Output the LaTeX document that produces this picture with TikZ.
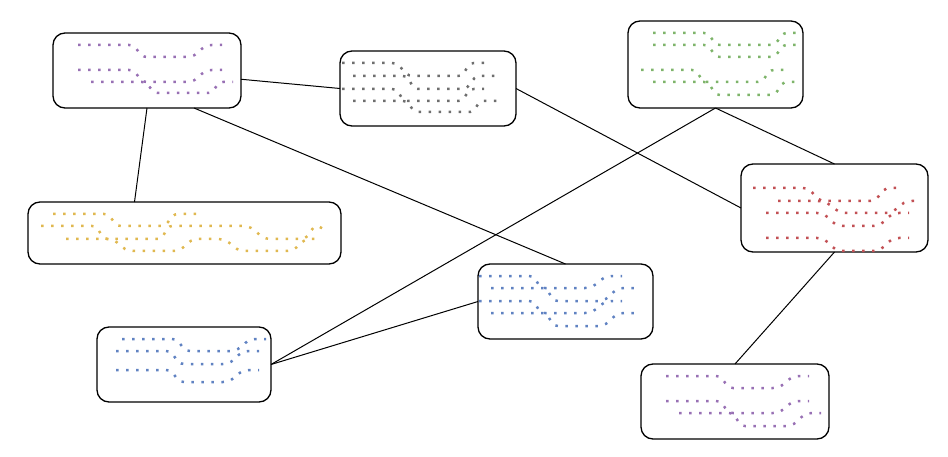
\documentclass[tikz,border=0pt]{standalone}
\usetikzlibrary{calc}
\definecolor{wpurple}{RGB}{152,112,180}
\definecolor{wgrey}{RGB}{110,110,110}
\definecolor{wgreen}{RGB}{126,180,106}
\definecolor{wyellow}{RGB}{224,184,80}
\definecolor{wred}{RGB}{194,80,84}
\definecolor{wblue}{RGB}{96,130,194}
\tikzset{
  card/.style={draw=black, line width=1.3pt, rounded corners=12pt, inner sep=0pt, outer sep=0pt},
  link/.style={draw=black, line width=1pt},
  dots/.style={line width=2.5pt, line cap=butt, dash pattern=on 2.5pt off 7.5pt},
}
% one dotted scribble line: start, flat, dip by #9, flat, rise back, short tail
% #1 colour, #2 x0, #3 y, #4 dip starts, #5 dip bottom reached, #6 rise starts, #7 rise ends, #8 x end, #9 depth
\newcommand{\scribble}[9]{%
  \draw[dots, #1] (#2,#3) -- (#4,#3)
    .. controls ({(#4+#5)/2},#3) and ({(#4+#5)/2},{#3+#9}) .. (#5,{#3+#9})
    -- (#6,{#3+#9})
    .. controls ({(#6+#7)/2},{#3+#9}) and ({(#6+#7)/2},#3) .. (#7,#3)
    -- (#8,#3);}
\begin{document}
\begin{tikzpicture}[x=1pt,y=-1pt]
\useasboundingbox (0,0) rectangle (948,457);

% cards
\node[card, minimum width=188pt, minimum height=75pt] (b1) at (147,70.5) {};
\node[card, minimum width=176pt, minimum height=75pt] (b2) at (428,88.5) {};
\node[card, minimum width=175pt, minimum height=87pt] (b3) at (715.5,64.5) {};
\node[card, minimum width=313pt, minimum height=62pt] (b4) at (184.5,233) {};
\node[card, minimum width=187pt, minimum height=88pt] (b5) at (834.5,208) {};
\node[card, minimum width=175pt, minimum height=75pt] (b6) at (565.5,301.5) {};
\node[card, minimum width=174pt, minimum height=75pt] (b7) at (184,364.5) {};
\node[card, minimum width=188pt, minimum height=75pt] (b8) at (735,401.5) {};

% links
\draw[link] (b2.west) -- (b1);
\draw[link] (b1.south) -- ([xshift=-50pt]b4.north);
\draw[link] ([xshift=47pt]b1.south) -- (b6.north);
\draw[link] (b2.east) -- (b5.west);
\draw[link] (b3.south) -- (b5.north);
\draw[link] (b3.south) -- (b7.east);
\draw[link] (b6.west) -- (b7.east);
\draw[link] (b5.south) -- (b8.north);

% card 1
\scribble{wpurple}{78}{45}{129}{147}{187}{212}{222}{12}
\scribble{wpurple}{78}{70}{129}{147}{187}{212}{222}{12}
\scribble{wpurple}{91}{82}{142}{158}{208}{223}{233}{11}

% card 2
\scribble{wgrey}{342}{63}{392}{413}{458}{474}{484}{13}
\scribble{wgrey}{353}{76}{403}{418}{462}{480}{497}{13}
\scribble{wgrey}{342}{89}{392}{408}{458}{474}{484}{12}
\scribble{wgrey}{353}{101}{403}{418}{470}{483}{497}{11}

% card 3
\scribble{wgreen}{653}{33}{704}{720}{771}{787}{797}{12}
\scribble{wgreen}{653}{45}{704}{720}{771}{787}{797}{12}
\scribble{wgreen}{641}{70}{692}{707}{758}{774}{784}{12}
\scribble{wgreen}{653}{82}{704}{720}{771}{787}{797}{13}

% card 4
\scribble{wyellow}{53}{214}{104}{121}{161}{178}{197}{12}
\draw[dots, wyellow] (41,226) -- (92,226)
  .. controls (100,226) and (100,239) .. (108,239) -- (158,239)
  .. controls (165,239) and (165,226) .. (172,226) -- (243,226)
  .. controls (257,226) and (257,239) .. (271,239) -- (301,239)
  .. controls (310,239) and (310,226) .. (318,226) -- (327,231);
\draw[dots, wyellow] (66,239) -- (107,239)
  .. controls (120,239) and (120,251) .. (133,251) -- (173,251)
  .. controls (186,251) and (186,239) .. (198,239) -- (218,239)
  .. controls (232,239) and (232,251) .. (245,251) -- (287,251)
  .. controls (299,251) and (299,239) .. (311,239) -- (321,239);

% card 5
\scribble{wred}{753}{188}{803}{825}{870}{890}{897}{13}
\scribble{wred}{778}{201}{818}{847}{885}{912}{921}{12}
\scribble{wred}{766}{213}{817}{843}{873}{899}{909}{13}
\scribble{wred}{766}{238}{817}{843}{873}{899}{909}{13}

% card 6
\scribble{wblue}{479}{276}{529}{545}{585}{612}{622}{12}
\scribble{wblue}{491}{288}{542}{558}{598}{624}{634}{13}
\scribble{wblue}{479}{301}{529}{545}{585}{612}{622}{12}
\scribble{wblue}{491}{313}{542}{558}{598}{624}{634}{13}

% card 7
\scribble{wblue}{122}{339}{172}{190}{230}{256}{266}{12}
\scribble{wblue}{116}{351}{166}{184}{223}{249}{259}{13}
\scribble{wblue}{116}{370}{166}{184}{223}{249}{259}{12}

% card 8
\scribble{wpurple}{666}{376}{716}{733}{773}{799}{809}{12}
\scribble{wpurple}{666}{401}{716}{733}{773}{799}{809}{12}
\scribble{wpurple}{679}{413}{729}{745}{786}{812}{821}{13}
\end{tikzpicture}
\end{document}
